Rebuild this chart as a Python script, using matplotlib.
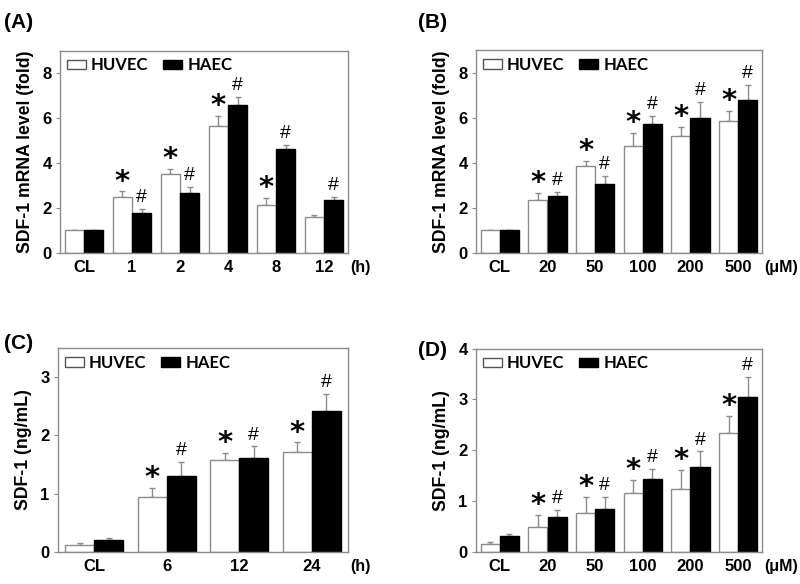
import numpy as np
import matplotlib
matplotlib.use("Agg")
import matplotlib.pyplot as plt
from matplotlib.patches import Patch

plt.rcParams['font.family'] = ['Liberation Sans', 'DejaVu Sans']
plt.rcParams['font.weight'] = 'bold'

# Panel A: mRNA time course
a_cats = ["CL", "1", "2", "4", "8", "12"]
a_huvec = [1.0, 2.49, 3.53, 5.63, 2.13, 1.60]
a_huvec_err = [0.0, 0.25, 0.20, 0.46, 0.30, 0.10]
a_haec = [1.0, 1.78, 2.67, 6.59, 4.61, 2.34]
a_haec_err = [0.0, 0.18, 0.27, 0.37, 0.19, 0.15]
a_star = [False, True, True, True, True, False]
a_hash = [False, True, True, True, True, True]

# Panel B: mRNA dose response
b_cats = ["CL", "20", "50", "100", "200", "500"]
b_huvec = [1.0, 2.34, 3.85, 4.76, 5.21, 5.86]
b_huvec_err = [0.0, 0.32, 0.24, 0.58, 0.38, 0.44]
b_haec = [1.0, 2.51, 3.08, 5.74, 5.99, 6.80]
b_haec_err = [0.0, 0.21, 0.33, 0.34, 0.71, 0.67]
b_star = [False, True, True, True, True, True]
b_hash = [False, True, True, True, True, True]

# Panel C: protein time course
c_cats = ["CL", "6", "12", "24"]
c_huvec = [0.11, 0.94, 1.57, 1.71]
c_huvec_err = [0.04, 0.16, 0.13, 0.17]
c_haec = [0.21, 1.31, 1.62, 2.42]
c_haec_err = [0.03, 0.24, 0.19, 0.29]
c_star = [False, True, True, True]
c_hash = [False, True, True, True]

# Panel D: protein dose response
d_cats = ["CL", "20", "50", "100", "200", "500"]
d_huvec = [0.16, 0.49, 0.77, 1.15, 1.24, 2.33]
d_huvec_err = [0.04, 0.24, 0.31, 0.27, 0.38, 0.35]
d_haec = [0.31, 0.68, 0.84, 1.44, 1.67, 3.05]
d_haec_err = [0.04, 0.15, 0.24, 0.20, 0.31, 0.40]
d_star = [False, True, True, True, True, True]
d_hash = [False, True, True, True, True, True]

EDGE = "#8c8c8c"
LEG_FONT = ['Lato', 'DejaVu Sans']


def panel(ax, cats, huvec, huvec_err, haec, haec_err, star, hsh,
          ylim, yticks, ylabel, unit, letter, letter_xy):
    x = np.arange(len(cats))
    w = 0.4
    zeros = np.zeros(len(cats))
    ax.bar(x - w / 2, huvec, w, color="white", edgecolor=EDGE, linewidth=1.0, zorder=2)
    ax.bar(x + w / 2, haec, w, color="black", edgecolor="black", linewidth=1.0, zorder=2)
    ax.errorbar(x - w / 2, huvec, yerr=[zeros, huvec_err], fmt="none",
                ecolor=EDGE, elinewidth=1.0, capsize=2.5, capthick=1.0, zorder=1)
    ax.errorbar(x + w / 2, haec, yerr=[zeros, haec_err], fmt="none",
                ecolor=EDGE, elinewidth=1.0, capsize=2.5, capthick=1.0, zorder=1)
    for i in range(len(cats)):
        if star[i]:
            ax.annotate("*", (x[i] - w / 2, huvec[i] + huvec_err[i]), xytext=(0, -3),
                        textcoords="offset points", ha="center", va="bottom",
                        fontsize=21, fontweight="bold", family=['DejaVu Sans'])
        if hsh[i]:
            ax.annotate("#", (x[i] + w / 2, haec[i] + haec_err[i]), xytext=(0, 2),
                        textcoords="offset points", ha="center", va="bottom",
                        fontsize=14, fontweight="normal", family=['Liberation Sans'])
    ax.set_xlim(-0.5, len(cats) - 0.5)
    ax.set_ylim(*ylim)
    ax.set_yticks(yticks)
    ax.set_xticks(x)
    ax.set_xticklabels(cats, fontsize=12, fontweight="bold")
    ax.tick_params(axis="x", length=0, pad=5)
    ax.tick_params(axis="y", length=3, width=0.8, color=EDGE, labelsize=12, pad=3)
    for lab in ax.get_yticklabels():
        lab.set_fontweight("bold")
    for s in ax.spines.values():
        s.set_color(EDGE)
        s.set_linewidth(1.0)
    ax.set_ylabel(ylabel, fontsize=12.7, fontweight="bold", labelpad=6)
    ax.annotate(unit, (1.0, 0.0), xycoords="axes fraction", xytext=(1.5, -5),
                textcoords="offset points", ha="left", va="top",
                fontsize=11.5, fontweight="bold")
    handles = [Patch(facecolor="white", edgecolor="#555555", linewidth=1.0),
               Patch(facecolor="black", edgecolor="black")]
    ax.legend(handles, ["HUVEC", "HAEC"], ncol=2, frameon=False, loc="upper left",
              borderaxespad=0.2, borderpad=0.2, handlelength=1.15, handleheight=0.5,
              handletextpad=0.3, columnspacing=0.9,
              prop={"family": LEG_FONT, "weight": "bold", "size": 12})
    ax.figure.text(letter_xy[0], letter_xy[1], letter, fontsize=15,
                   fontweight="bold", ha="left", va="center")


fig = plt.figure(figsize=(8, 5.84), dpi=100)
axA = fig.add_axes([0.075, 0.567, 0.36, 0.346])
axB = fig.add_axes([0.595, 0.567, 0.3575, 0.347])
axC = fig.add_axes([0.0725, 0.055, 0.3625, 0.349])
axD = fig.add_axes([0.595, 0.055, 0.3575, 0.348])

panel(axA, a_cats, a_huvec, a_huvec_err, a_haec, a_haec_err, a_star, a_hash,
      (0, 9), [0, 2, 4, 6, 8], "SDF-1 mRNA level (fold)", "(h)", "(A)", (0.005, 0.962))
panel(axB, b_cats, b_huvec, b_huvec_err, b_haec, b_haec_err, b_star, b_hash,
      (0, 9), [0, 2, 4, 6, 8], "SDF-1 mRNA level (fold)", "(\u03bcM)", "(B)", (0.522, 0.962))
panel(axC, c_cats, c_huvec, c_huvec_err, c_haec, c_haec_err, c_star, c_hash,
      (0, 3.5), [0, 1, 2, 3], "SDF-1 (ng/mL)", "(h)", "(C)", (0.005, 0.412))
panel(axD, d_cats, d_huvec, d_huvec_err, d_haec, d_haec_err, d_star, d_hash,
      (0, 4), [0, 1, 2, 3, 4], "SDF-1 (ng/mL)", "(\u03bcM)", "(D)", (0.522, 0.40))

fig.savefig("out.png", dpi=100)
